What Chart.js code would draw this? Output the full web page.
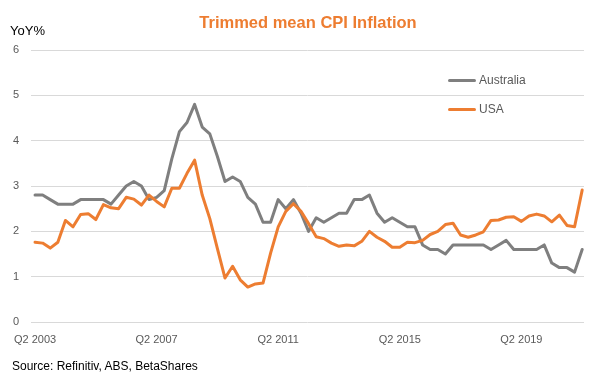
<!DOCTYPE html>
<html>
<head>
<meta charset="utf-8">
<script src="https://cdn.jsdelivr.net/npm/chart.js@4/dist/chart.umd.min.js"></script>
<style>
    body { margin: 0; background: #fff; font-family: 'Liberation Sans', Arial, sans-serif; }
    #wrap { position: relative; width: 616px; height: 384px; }
    #chart { position: absolute; left: 0; top: 0; }
    .title { position: absolute; left: 0; width: 616px; top: 13px; text-align: center; color: #ED7D31; font-weight: bold; font-size: 16.5px; }
    .unit { position: absolute; left: 10px; top: 23px; font-size: 13px; color: #000; }
    .source { position: absolute; left: 12px; top: 359px; font-size: 12px; color: #000; }
    .legend-item { position: absolute; left: 448px; font-size: 12px; color: #595959; height: 14px; line-height: 14px; }
    .legend-item span { display: inline-block; width: 28px; height: 3px; vertical-align: middle; margin-right: 3px; border-radius: 2px; }
</style>
</head>
<body>
<div id="wrap">
    <canvas id="chart" width="616" height="384"></canvas>
    <div class="title">Trimmed mean CPI Inflation</div>
    <div class="unit">YoY%</div>
    <div class="source">Source: Refinitiv, ABS, BetaShares</div>
    <div id="legend"></div>
</div>
<script>
// quarters Q2 2003 .. Q2 2021
const firstYear = 2003;
const quarters = [];
for (let i = 0; i < 73; i++) {
    const q = (1 + i) % 4 + 1;
    const y = firstYear + Math.floor((1 + i) / 4);
    quarters.push('Q' + q + ' ' + y);
}
const tickLabels = ['Q2 2003', 'Q2 2007', 'Q2 2011', 'Q2 2015', 'Q2 2019'];
const seriesNames = ['Australia', 'USA'];
const seriesColors = ['#7F7F7F', '#ED7D31'];

const australia = [2.8, 2.8, 2.7, 2.6, 2.6, 2.6, 2.7, 2.7, 2.7, 2.7, 2.6, 2.8, 3.0, 3.1, 3.0, 2.7,
    2.75, 2.9, 3.6, 4.2, 4.4, 4.8, 4.3, 4.15, 3.65, 3.1, 3.2, 3.1, 2.75, 2.6, 2.2, 2.2,
    2.7, 2.5, 2.7, 2.4, 2.0, 2.3, 2.2, 2.3, 2.4, 2.4, 2.7, 2.7, 2.8, 2.4, 2.2, 2.3,
    2.2, 2.1, 2.1, 1.7, 1.6, 1.6, 1.5, 1.7, 1.7, 1.7, 1.7, 1.7, 1.6, 1.7, 1.8, 1.6,
    1.6, 1.6, 1.6, 1.7, 1.3, 1.2, 1.2, 1.1, 1.6];
const usa = [1.76, 1.74, 1.63, 1.76, 2.24, 2.1, 2.37, 2.39, 2.26, 2.59, 2.52, 2.5, 2.75, 2.71, 2.58, 2.8,
    2.66, 2.54, 2.95, 2.95, 3.28, 3.57, 2.8, 2.28, 1.62, 0.97, 1.23, 0.93, 0.77, 0.84, 0.86, 1.52,
    2.1, 2.44, 2.61, 2.44, 2.17, 1.88, 1.84, 1.74, 1.67, 1.7, 1.68, 1.78, 2.0, 1.87, 1.78, 1.65,
    1.65, 1.76, 1.75, 1.8, 1.93, 2.0, 2.15, 2.18, 1.92, 1.87, 1.92, 1.99, 2.24, 2.25, 2.31, 2.32,
    2.22, 2.34, 2.38, 2.34, 2.21, 2.36, 2.13, 2.1, 2.91];

const series = [australia, usa];

// legend
const legend = document.getElementById('legend');
seriesNames.forEach((name, i) => {
    const div = document.createElement('div');
    div.className = 'legend-item';
    div.style.top = (73 + i * 29) + 'px';
    div.innerHTML = `<span style="background:${seriesColors[i]}"></span>${name}`;
    legend.appendChild(div);
});

const tickFont = { family: "'Liberation Sans', Arial, sans-serif", size: 11 };

new Chart(document.getElementById('chart'), {
    type: 'line',
    data: {
        datasets: series.map((values, i) => ({
            label: seriesNames[i],
            data: values.map((v, j) => ({ x: j, y: v })),
            borderColor: seriesColors[i],
            borderWidth: 3,
            pointRadius: 0,
            tension: 0,
            fill: false,
            borderJoinStyle: 'round',
            borderCapStyle: 'round',
            order: i === 1 ? 0 : 1
        }))
    },
    options: {
        responsive: false,
        animation: false,
        layout: { padding: { top: 50, right: 32, bottom: 32, left: 0 } },
        plugins: { legend: { display: false }, tooltip: { enabled: false } },
        scales: {
            x: {
                type: 'linear',
                min: -0.53,
                max: 72.24,
                grid: { display: false },
                border: { display: false },
                afterBuildTicks: scale => {
                    scale.ticks = tickLabels.map(t => ({ value: quarters.indexOf(t) }));
                },
                afterFit: scale => { scale.height = 30; },
                ticks: {
                    autoSkip: false,
                    maxRotation: 0,
                    padding: 3,
                    color: '#595959',
                    font: tickFont,
                    callback: v => quarters[v]
                }
            },
            y: {
                min: 0,
                max: 6,
                grid: { color: '#D9D9D9', drawTicks: false, lineWidth: 1 },
                border: { display: false },
                afterFit: scale => { scale.width = 31; },
                ticks: {
                    stepSize: 1,
                    padding: 12,
                    color: '#595959',
                    font: tickFont
                }
            }
        }
    }
});
</script>
</body>
</html>
